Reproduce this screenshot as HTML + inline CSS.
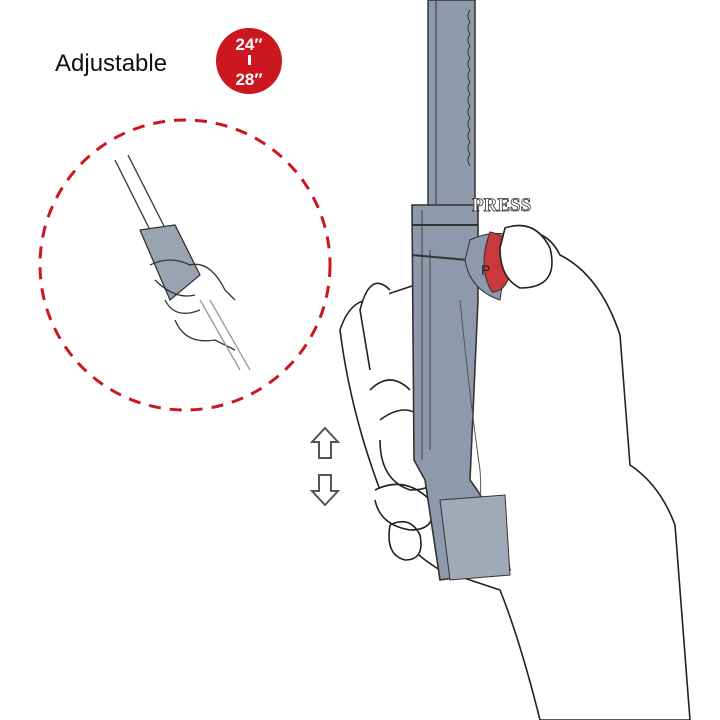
<!DOCTYPE html>
<html><head><style>
html,body{margin:0;padding:0;background:#fff;width:720px;height:720px;overflow:hidden}
</style></head><body>
<svg width="720" height="720" viewBox="0 0 720 720" xmlns="http://www.w3.org/2000/svg">
<text x="55" y="71" font-family="Liberation Sans, sans-serif" font-size="24" fill="#111">Adjustable</text>
<circle cx="249" cy="61" r="33" fill="#cc1720"/>
<text x="249" y="50" text-anchor="middle" font-family="Liberation Sans, sans-serif" font-weight="bold" font-size="17" fill="#fff">24″</text>
<rect x="248" y="55" width="3" height="10" fill="#fff"/>
<text x="249" y="85" text-anchor="middle" font-family="Liberation Sans, sans-serif" font-weight="bold" font-size="17" fill="#fff">28″</text>
<circle cx="185" cy="265" r="145" fill="none" stroke="#cc1720" stroke-width="3" stroke-dasharray="12 9"/>
<g fill="none" stroke="#333" stroke-width="1.3">
<path d="M115 160 L150 230 M128 155 L165 228"/>
<path d="M140 230 L175 225 L200 275 L170 300 Z" fill="#9aa3b1"/>
<path d="M150 265 q20 -10 40 0 q20 -5 35 25 l10 10 M155 280 q20 20 40 15 M165 300 q10 20 35 10 M175 320 q10 25 40 20 l20 10"/>
<path d="M200 300 L240 370 M210 300 L250 370" stroke="#999"/>
</g>
<g fill="#fff" stroke="#222" stroke-width="1.6">
<path d="M515 235 q30 -10 45 20 q40 20 60 80 l10 130 q30 20 45 60 L690 720 L540 720 q-20 -80 -40 -130 l-60 -20 q-50 -30 -60 -80 q-30 -80 -40 -160 q10 -30 30 -30 l60 -20 z"/>
<path d="M390 290 q-20 -20 -30 20 l10 60 M380 420 q40 -30 60 30 q10 40 -30 40 q-30 -10 -30 -50 M375 490 q30 -15 55 10 q10 30 -20 30 q-30 -5 -35 -30 M390 525 q20 -10 30 10 q5 25 -15 25 q-20 -5 -15 -35 M370 390 q20 -20 40 0"/>
</g>
<rect x="428" y="0" width="47" height="210" fill="#8e99ab" stroke="#333" stroke-width="1.5"/>
<path d="M436 0 L436 210" stroke="#333" fill="none"/>
<path d="M470 10 q-4 6 0 12 q-4 6 0 12 q-4 6 0 12 q-4 6 0 12 q-4 6 0 12 q-4 6 0 12 q-4 6 0 12 q-4 6 0 12 q-4 6 0 12 q-4 6 0 12 q-4 6 0 12 q-4 6 0 12 q-4 6 0 12" stroke="#333" fill="none"/>
<path d="M412 205 L478 205 L478 300 L470 480 q30 40 40 90 L440 580 L425 480 L414 460 Z" fill="#8e99ab" stroke="#333" stroke-width="1.6"/>
<path d="M422 210 L422 460 M430 250 L430 450" stroke="#444" fill="none"/>
<path d="M412 225 L478 225 M412 255 L490 262" stroke="#333" stroke-width="2" fill="none"/>
<path d="M460 300 q10 100 20 170 q5 60 -25 90" stroke="#555" fill="none"/>
<path d="M440 500 L505 495 L510 575 L450 580 Z" fill="#a0a9b8" stroke="#333"/>
<path d="M470 240 q20 -10 40 -5 L500 300 q-30 -10 -35 -40 Z" fill="#8e99ab" stroke="#333"/>
<path d="M490 232 q25 5 22 35 q-5 25 -20 25 q-15 -25 -2 -60 Z" fill="#c8383c" stroke="#333"/>
<text x="481" y="275" font-family="Liberation Sans, sans-serif" font-size="14" fill="#222">P</text>
<path d="M505 228 q30 -10 45 20 q10 40 -30 40 q-20 -10 -20 -40 Z" fill="#fff" stroke="#222" stroke-width="1.6"/>
<text x="472" y="211" font-family="Liberation Serif, serif" font-weight="bold" font-size="19" fill="#fff" stroke="#333" stroke-width="0.8">PRESS</text>
<path d="M325 428 L338 442 L331 442 L331 458 L319 458 L319 442 L312 442 Z" fill="#fff" stroke="#555" stroke-width="2"/>
<path d="M325 505 L338 491 L331 491 L331 475 L319 475 L319 491 L312 491 Z" fill="#fff" stroke="#555" stroke-width="2"/>
</svg>
</body></html>
